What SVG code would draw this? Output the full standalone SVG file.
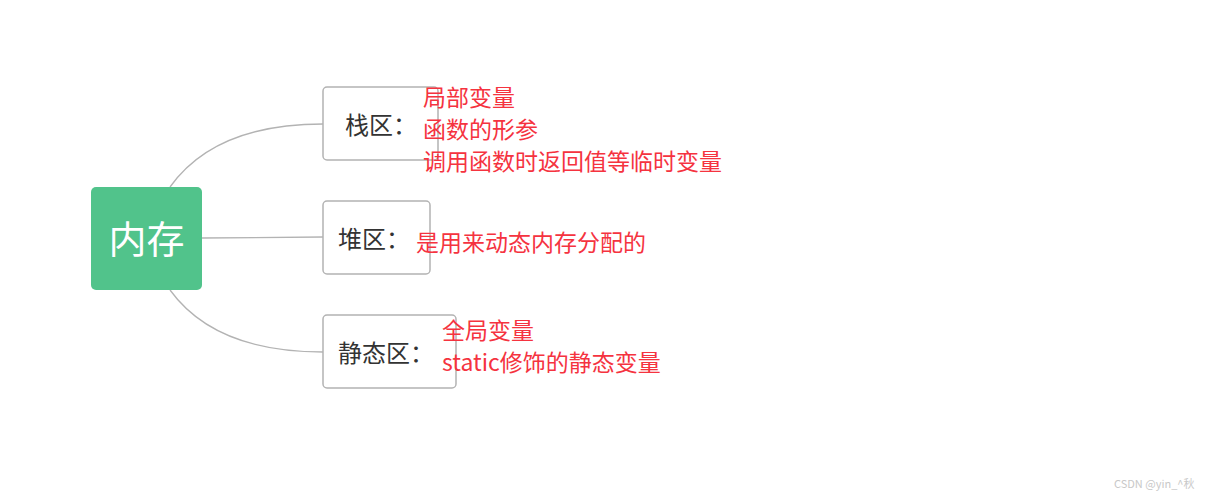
<svg xmlns="http://www.w3.org/2000/svg" width="1212" height="500" viewBox="0 0 1212 500">
<style>
.box{fill:#fff;stroke:#b3b3b3;stroke-width:1.5}
.lbl{font-family:"Noto Sans CJK SC",sans-serif;font-size:24px;fill:#333}
.red{font-family:"Noto Sans CJK SC",sans-serif;font-size:23px;fill:#f5333f}
.c{fill:none;stroke:#b3b3b3;stroke-width:1.3}
</style>
<rect width="1212" height="500" fill="#fff"/>
<g id="connectors">
<path class="c" d="M170,187 Q215,124 323,124"/>
<path class="c" d="M202,238 L323,237"/>
<path class="c" d="M170,290 Q215,352 323,352"/>
</g>
<g id="root"><rect x="91" y="187" width="111" height="103" rx="5" fill="#51c38b"/>
<text x="146.5" y="253" text-anchor="middle" font-family="Noto Sans CJK SC,sans-serif" font-size="38" fill="#fff">内存</text></g>
<g id="stack"><rect class="box" x="323" y="87" width="115" height="73" rx="4"/>
<text class="lbl" x="345" y="134">栈区：</text></g>
<g id="heap"><rect class="box" x="323" y="201" width="107" height="73" rx="4"/>
<text class="lbl" x="338" y="248">堆区：</text></g>
<g id="static"><rect class="box" x="323" y="315" width="133" height="73" rx="4"/>
<text class="lbl" x="338" y="362">静态区：</text></g>
<g id="notes">
<text class="red" x="423" y="106">局部变量</text>
<text class="red" x="423" y="138">函数的形参</text>
<text class="red" x="423" y="170">调用函数时返回值等临时变量</text>
<text class="red" x="416" y="251">是用来动态内存分配的</text>
<text class="red" x="442" y="339">全局变量</text>
<text class="red" x="442" y="371">static修饰的静态变量</text>
</g>
<text x="1114" y="488" font-family="Noto Sans CJK SC,sans-serif" font-size="11" fill="#c8c8c8">CSDN @yin_^秋</text>
</svg>
